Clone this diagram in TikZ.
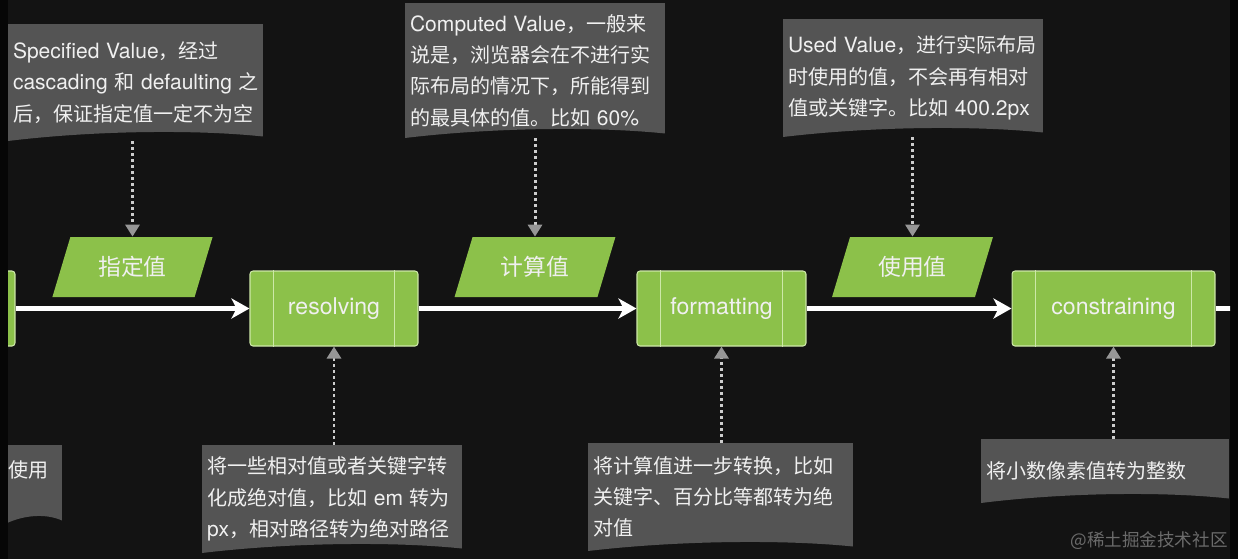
\documentclass[tikz,border=0pt]{standalone}
\usepackage{fontspec}
\setmainfont{Noto Sans CJK SC}
\newfontfamily\latin[Scale=1.05]{TeX Gyre Heros}
\usepackage{tikz}
\usetikzlibrary{arrows.meta,positioning,shapes.geometric,calc}
\definecolor{flowgreen}{RGB}{140,193,74}
\definecolor{flowline}{RGB}{205,232,168}
\definecolor{notegray}{RGB}{84,84,84}
\definecolor{pagebg}{RGB}{19,19,19}
\definecolor{frameblack}{RGB}{6,6,6}
\definecolor{dotgray}{RGB}{205,205,205}
\definecolor{tipgray}{RGB}{150,150,150}

\begin{document}
\begin{tikzpicture}[x=0.02cm, y=-0.02cm,
  every node/.style={font=\fontsize{11.4}{17.8}\selectfont, text=white!94!black},
  note/.style={inner xsep=0.1cm, inner ysep=0pt, align=left, text width=#1,
    path picture={\fill[notegray] (path picture bounding box.north west) -- (path picture bounding box.north east)
      -- ($(path picture bounding box.south east)+(0,0.09cm)$)
      .. controls ($(path picture bounding box.south west)!0.72!(path picture bounding box.south east)+(0,0.24cm)$)
      and ($(path picture bounding box.south west)!0.32!(path picture bounding box.south east)+(0,0.2cm)$)
      .. (path picture bounding box.south west) -- cycle;}},
  proc/.style={draw=flowline, line width=0.6pt, fill=flowgreen, rounded corners=1.7pt, inner sep=0pt,
    minimum height=1.5cm, font=\latin\fontsize{12.5}{15}\selectfont},
  value/.style={trapezium, trapezium left angle=65, trapezium right angle=115, trapezium stretches=true,
    fill=flowgreen, inner sep=0pt, minimum height=1.2cm, minimum width=3.22cm, font=\fontsize{13}{15}\selectfont},
  flow/.style={-{Stealth[length=0.36cm, width=0.4cm, inset=0.1cm]}, white, line width=2.3pt},
  hint/.style={dotgray, line width=1.7pt, dash pattern=on 1.7pt off 1.7pt,
    -{Triangle[length=0.24cm, width=0.28cm, color=tipgray]}},
]
  \useasboundingbox (0,0) rectangle (1238,559);
  \fill[frameblack] (0,0) rectangle (1238,559);
  \fill[pagebg] (8,0) rectangle (1230,559);
  \clip (8,0) rectangle (1230,559);

  % notes above
  \node[note=4.9cm, minimum height=2.34cm] (n1) at (135.5,82.5) {{\latin Specified~Value}，经过\\\mbox{{\latin cascading} 和 {\latin defaulting} 之}\\后，保证指定值一定不为空};
  \node[note=5.0cm, minimum height=2.7cm] (n2) at (535,70.5) {{\latin Computed~Value}，一般来\\说是，浏览器会在不进行实\\际布局的情况下，所能得到\\的最具体的值。比如~{\latin 60\%}};
  \node[note=5.0cm, minimum height=2.36cm] (n3) at (913,78) {{\latin Used~Value}，进行实际布局\\时使用的值，不会再有相对\\值或关键字。比如~{\latin 400.2px}};

  % values
  \node[value] (v1) at (132.5,267) {指定值};
  \node[value] (v2) at (535,267) {计算值};
  \node[value] (v3) at (912.5,267) {使用值};

  % process steps
  \node[proc, minimum width=3.5cm] (p0) at (-72.5,308.5) {};
  \node[proc, minimum width=3.36cm] (pr) at (334,308.5) {resolving};
  \node[proc, minimum width=3.38cm] (pf) at (721.5,308.5) {formatting};
  \node[proc, minimum width=4.06cm] (pc) at (1113.5,308.5) {constraining};
  \foreach \p in {p0,pr,pf,pc} {
    \draw[flowline, line width=0.6pt] ([xshift=0.48cm]\p.north west) -- ([xshift=0.48cm]\p.south west);
    \draw[flowline, line width=0.6pt] ([xshift=-0.48cm]\p.north east) -- ([xshift=-0.48cm]\p.south east);
  }

  % notes below
  \node[note=0.98cm, minimum height=1.6cm] (n0) at (32.5,485) {使用\\\mbox{}};
  \node[note=5.0cm, minimum height=2.16cm] (n4) at (332,499) {将一些相对值或者关键字转\\化成绝对值，比如~{\latin em}~转为\\{\latin px}，相对路径转为绝对路径};
  \node[note=5.1cm, minimum height=2.16cm] (n5) at (720.5,497) {将计算值进一步转换，比如\\关键字、百分比等都转为绝\\对值};
  \node[note=4.76cm, minimum height=1.28cm] (n6) at (1105,471) {将小数像素值转为整数};

  \node[font=\fontsize{10}{12}\selectfont, text=white!42!black] (mark) at (1149,541) {@稀土掘金技术社区};

  % main flow
  \coordinate (edge) at (1240,308.5);
  \foreach \a/\b in {p0/pr, pr/pf, pf/pc}
    \draw[flow] (\a.east) -- (\b.west);
  \draw[white, line width=2.3pt] (pc.east) -- (edge);

  % dotted hints
  \foreach \n/\v in {n1/v1, n2/v2, n3/v3}
    \draw[hint] (\n.south -| \v.north) -- (\v.north);
  \foreach \n/\p in {n4/pr, n5/pf, n6/pc}
    \draw[hint] (\n.north -| \p.south) -- (\p.south);
\end{tikzpicture}
\end{document}
